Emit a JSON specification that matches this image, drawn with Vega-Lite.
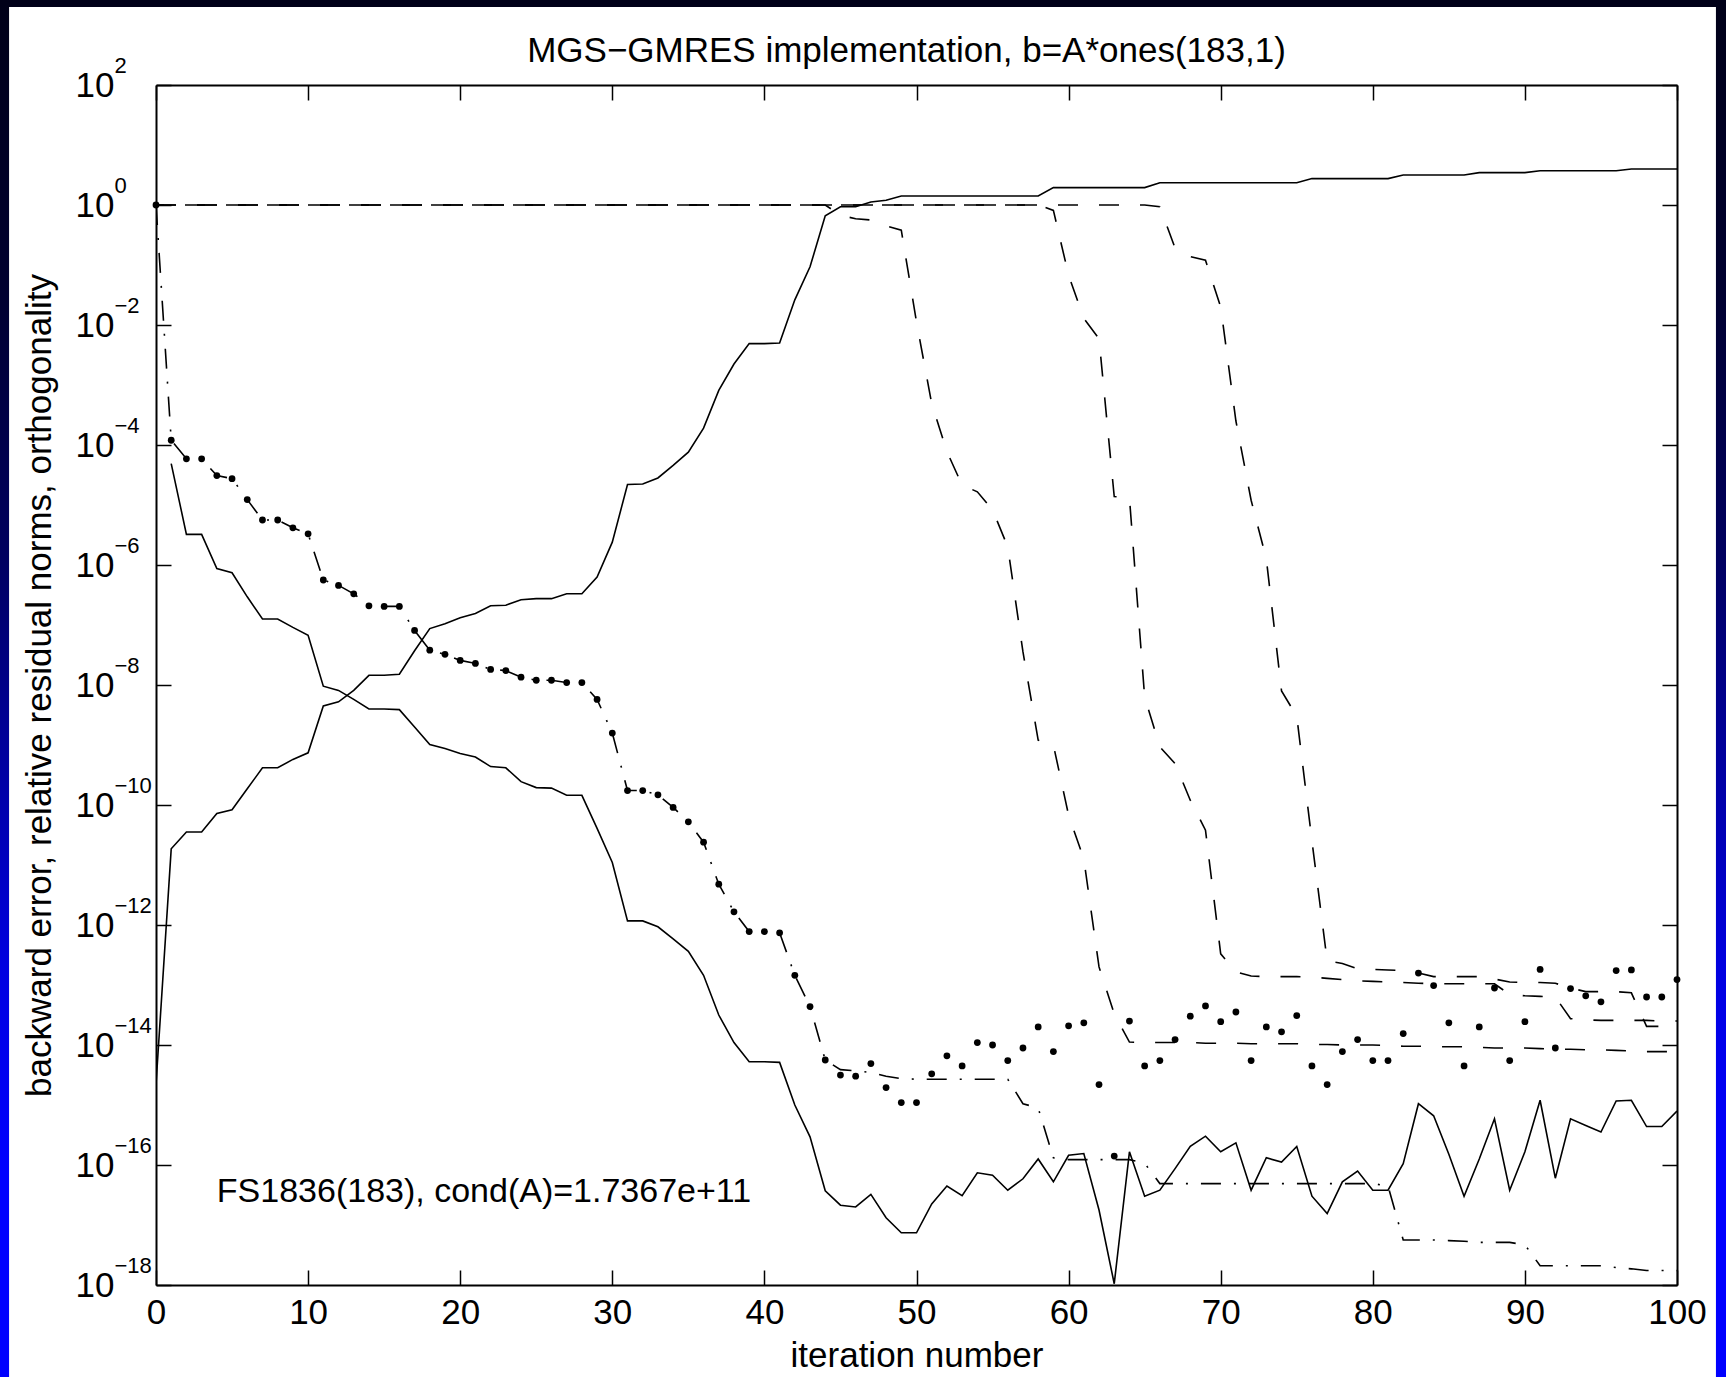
{
  "$schema": "https://vega.github.io/schema/vega-lite/v6.json",
  "autosize": "none",
  "width": 1521,
  "height": 1200,
  "padding": {"left": 156, "top": 85, "right": 49, "bottom": 92},
  "background": "#000018",
  "config": {
    "view": {"stroke": null},
    "font": "Liberation Sans",
    "axis": {"labelFont": "Liberation Sans", "titleFont": "Liberation Sans", "labelColor": "black", "titleColor": "black", "tickColor": "black", "domainColor": "black", "grid": false, "labelFlush": false, "labelOverlap": false, "titleFontWeight": "normal"}
  },
  "title": {"text": "MGS−GMRES implementation, b=A*ones(183,1)", "font": "Liberation Sans", "fontSize": 35, "fontWeight": "normal", "color": "black", "anchor": "middle", "frame": "group", "offset": -97, "dx": -10, "baseline": "alphabetic"},
  "data": {"values": [
    {"i":0,"o":2.19e-15,"e":1,"r":1,"d1":1,"d2":1,"d3":1},
    {"i":1,"o":1.86e-11,"b":4.90e-5,"e":1.20e-4,"r":1.20e-4,"d1":1,"d2":1,"d3":1},
    {"i":2,"o":3.55e-11,"b":3.24e-6,"e":5.89e-5,"r":5.89e-5,"d1":1,"d2":1,"d3":1},
    {"i":3,"o":3.55e-11,"b":3.24e-6,"e":5.89e-5,"r":5.89e-5,"d1":1,"d2":1,"d3":1},
    {"i":4,"o":7.24e-11,"b":8.71e-7,"e":3.09e-5,"r":3.09e-5,"d1":1,"d2":1,"d3":1},
    {"i":5,"o":8.32e-11,"b":7.41e-7,"e":2.75e-5,"r":2.75e-5,"d1":1,"d2":1,"d3":1},
    {"i":6,"o":1.86e-10,"b":2.95e-7,"e":1.23e-5,"r":1.23e-5,"d1":1,"d2":1,"d3":1},
    {"i":7,"o":4.17e-10,"b":1.26e-7,"e":5.62e-6,"r":5.62e-6,"d1":1,"d2":1,"d3":1},
    {"i":8,"o":4.17e-10,"b":1.26e-7,"e":5.62e-6,"r":5.62e-6,"d1":1,"d2":1,"d3":1},
    {"i":9,"o":5.75e-10,"b":9.12e-8,"e":4.17e-6,"r":4.17e-6,"d1":1,"d2":1,"d3":1},
    {"i":10,"o":7.41e-10,"b":6.76e-8,"e":3.31e-6,"r":3.31e-6,"d1":1,"d2":1,"d3":1},
    {"i":11,"o":4.47e-9,"b":9.55e-9,"e":5.62e-7,"r":5.62e-7,"d1":1,"d2":1,"d3":1},
    {"i":12,"o":5.25e-9,"b":8.13e-9,"e":4.57e-7,"r":4.57e-7,"d1":1,"d2":1,"d3":1},
    {"i":13,"o":8.13e-9,"b":5.75e-9,"e":3.31e-7,"r":3.31e-7,"d1":1,"d2":1,"d3":1},
    {"i":14,"o":1.45e-8,"b":3.98e-9,"e":2.09e-7,"r":2.09e-7,"d1":1,"d2":1,"d3":1},
    {"i":15,"o":1.45e-8,"b":3.98e-9,"e":2.04e-7,"r":2.04e-7,"d1":1,"d2":1,"d3":1},
    {"i":16,"o":1.51e-8,"b":3.89e-9,"e":2.04e-7,"r":2.04e-7,"d1":1,"d2":1,"d3":1},
    {"i":17,"o":3.72e-8,"b":2.00e-9,"e":8.13e-8,"r":8.13e-8,"d1":1,"d2":1,"d3":1},
    {"i":18,"o":8.71e-8,"b":1.02e-9,"e":3.80e-8,"r":3.80e-8,"d1":1,"d2":1,"d3":1},
    {"i":19,"o":1.05e-7,"b":8.71e-10,"e":3.24e-8,"r":3.24e-8,"d1":1,"d2":1,"d3":1},
    {"i":20,"o":1.32e-7,"b":7.24e-10,"e":2.57e-8,"r":2.57e-8,"d1":1,"d2":1,"d3":1},
    {"i":21,"o":1.55e-7,"b":6.31e-10,"e":2.29e-8,"r":2.29e-8,"d1":1,"d2":1,"d3":1},
    {"i":22,"o":2.09e-7,"b":4.37e-10,"e":1.82e-8,"r":1.82e-8,"d1":1,"d2":1,"d3":1},
    {"i":23,"o":2.14e-7,"b":4.17e-10,"e":1.74e-8,"r":1.74e-8,"d1":1,"d2":1,"d3":1},
    {"i":24,"o":2.63e-7,"b":2.45e-10,"e":1.35e-8,"r":1.35e-8,"d1":1,"d2":1,"d3":1},
    {"i":25,"o":2.75e-7,"b":1.95e-10,"e":1.20e-8,"r":1.20e-8,"d1":1,"d2":1,"d3":1},
    {"i":26,"o":2.75e-7,"b":1.91e-10,"e":1.20e-8,"r":1.20e-8,"d1":1,"d2":1,"d3":1},
    {"i":27,"o":3.31e-7,"b":1.45e-10,"e":1.10e-8,"r":1.10e-8,"d1":1,"d2":1,"d3":1},
    {"i":28,"o":3.31e-7,"b":1.45e-10,"e":1.10e-8,"r":1.10e-8,"d1":1,"d2":1,"d3":1},
    {"i":29,"o":6.31e-7,"b":4.07e-11,"e":5.75e-9,"r":5.75e-9,"d1":1,"d2":1,"d3":1},
    {"i":30,"o":2.40e-6,"b":1.10e-11,"e":1.58e-9,"r":1.58e-9,"d1":1,"d2":1,"d3":1},
    {"i":31,"o":2.19e-5,"b":1.17e-12,"e":1.74e-10,"r":1.74e-10,"d1":1,"d2":1,"d3":1},
    {"i":32,"o":2.24e-5,"b":1.17e-12,"e":1.74e-10,"r":1.74e-10,"d1":1,"d2":1,"d3":1},
    {"i":33,"o":2.82e-5,"b":9.33e-13,"e":1.48e-10,"r":1.48e-10,"d1":1,"d2":1,"d3":1},
    {"i":34,"o":4.57e-5,"b":5.89e-13,"e":9.12e-11,"r":9.12e-11,"d1":1,"d2":1,"d3":1},
    {"i":35,"o":7.59e-5,"b":3.63e-13,"e":5.25e-11,"r":5.25e-11,"d1":1,"d2":1,"d3":1},
    {"i":36,"o":1.91e-4,"b":1.45e-13,"e":2.40e-11,"r":2.40e-11,"d1":1,"d2":1,"d3":1},
    {"i":37,"o":8.13e-4,"b":3.16e-14,"e":4.79e-12,"r":4.79e-12,"d1":1,"d2":1,"d3":1},
    {"i":38,"o":2.24e-3,"b":1.10e-14,"e":1.66e-12,"r":1.66e-12,"d1":1,"d2":1,"d3":1},
    {"i":39,"o":4.90e-3,"b":5.25e-15,"e":7.76e-13,"r":7.76e-13,"d1":1,"d2":1,"d3":1},
    {"i":40,"o":4.90e-3,"b":5.25e-15,"e":7.76e-13,"r":7.76e-13,"d1":1,"d2":1,"d3":1},
    {"i":41,"o":5.01e-3,"b":5.13e-15,"e":7.41e-13,"r":7.41e-13,"d1":1,"d2":1,"d3":1},
    {"i":42,"o":2.63e-2,"b":1.00e-15,"e":1.45e-13,"r":1.45e-13,"d1":1,"d2":1,"d3":1},
    {"i":43,"o":9.33e-2,"b":2.95e-16,"e":4.37e-14,"r":4.37e-14,"d1":1,"d2":1,"d3":1},
    {"i":44,"o":0.661,"b":3.72e-17,"e":5.62e-15,"r":5.62e-15,"d1":1,"d2":1,"d3":1},
    {"i":45,"o":0.933,"b":2.14e-17,"e":3.89e-15,"r":3.16e-15,"d1":0.676,"d2":1,"d3":1},
    {"i":46,"o":0.933,"b":2.00e-17,"e":3.72e-15,"r":3.02e-15,"d1":0.589,"d2":1,"d3":1},
    {"i":47,"o":1.122,"b":3.24e-17,"e":3.47e-15,"r":4.90e-15,"d1":0.562,"d2":1,"d3":1},
    {"i":48,"o":1.202,"b":1.32e-17,"e":3.02e-15,"r":1.95e-15,"d1":0.447,"d2":1,"d3":1},
    {"i":49,"o":1.413,"b":7.41e-18,"e":2.75e-15,"r":1.10e-15,"d1":0.380,"d2":1,"d3":1},
    {"i":50,"o":1.413,"b":7.41e-18,"e":2.69e-15,"r":1.10e-15,"d1":1.12e-2,"d2":1,"d3":1},
    {"i":51,"o":1.413,"b":2.24e-17,"e":2.69e-15,"r":3.31e-15,"d1":4.90e-4,"d2":1,"d3":1},
    {"i":52,"o":1.413,"b":4.47e-17,"e":2.69e-15,"r":6.61e-15,"d1":7.76e-5,"d2":1,"d3":1},
    {"i":53,"o":1.413,"b":3.09e-17,"e":2.69e-15,"r":4.47e-15,"d1":2.14e-5,"d2":1,"d3":1},
    {"i":54,"o":1.413,"b":7.41e-17,"e":2.69e-15,"r":1.10e-14,"d1":1.66e-5,"d2":1,"d3":1},
    {"i":55,"o":1.413,"b":6.76e-17,"e":2.69e-15,"r":1.00e-14,"d1":8.32e-6,"d2":1,"d3":1},
    {"i":56,"o":1.413,"b":3.80e-17,"e":2.69e-15,"r":5.50e-15,"d1":2.00e-6,"d2":1,"d3":1},
    {"i":57,"o":1.413,"b":5.89e-17,"e":1.05e-15,"r":8.91e-15,"d1":3.55e-8,"d2":1,"d3":1},
    {"i":58,"o":1.413,"b":1.26e-16,"e":8.91e-16,"r":2.00e-14,"d1":1.20e-9,"d2":1,"d3":1},
    {"i":59,"o":1.95,"b":5.25e-17,"e":1.32e-16,"r":7.76e-15,"d1":1.00e-9,"d2":0.813,"d3":1},
    {"i":60,"o":1.95,"b":1.45e-16,"e":1.23e-16,"r":2.09e-14,"d1":6.76e-11,"d2":6.76e-2,"d3":1},
    {"i":61,"o":1.95,"b":1.55e-16,"e":1.23e-16,"r":2.34e-14,"d1":1.26e-11,"d2":1.29e-2,"d3":1},
    {"i":62,"o":1.95,"b":1.78e-17,"e":1.23e-16,"r":2.19e-15,"d1":2.00e-13,"d2":5.89e-3,"d3":1},
    {"i":63,"o":1.95,"b":1.05e-18,"e":1.23e-16,"r":1.41e-16,"d1":3.31e-14,"d2":1.38e-5,"d3":1},
    {"i":64,"o":1.95,"b":1.66e-16,"e":1.23e-16,"r":2.51e-14,"d1":1.12e-14,"d2":1.32e-5,"d3":1},
    {"i":65,"o":1.95,"b":3.02e-17,"e":1.07e-16,"r":4.47e-15,"d1":1.10e-14,"d2":6.31e-9,"d3":1},
    {"i":66,"o":2.344,"b":3.80e-17,"e":4.90e-17,"r":5.50e-15,"d1":1.10e-14,"d2":9.33e-10,"d3":0.933},
    {"i":67,"o":2.344,"b":8.71e-17,"e":4.90e-17,"r":1.23e-14,"d1":1.10e-14,"d2":4.90e-10,"d3":0.191},
    {"i":68,"o":2.344,"b":2.04e-16,"e":4.90e-17,"r":3.02e-14,"d1":1.10e-14,"d2":1.20e-10,"d3":0.138},
    {"i":69,"o":2.344,"b":3.02e-16,"e":4.90e-17,"r":4.47e-14,"d1":1.07e-14,"d2":3.80e-11,"d3":0.120},
    {"i":70,"o":2.344,"b":1.66e-16,"e":4.90e-17,"r":2.45e-14,"d1":1.07e-14,"d2":3.31e-13,"d3":2.00e-2},
    {"i":71,"o":2.344,"b":2.34e-16,"e":4.90e-17,"r":3.55e-14,"d1":1.07e-14,"d2":1.66e-13,"d3":2.51e-4},
    {"i":72,"o":2.344,"b":3.80e-17,"e":4.90e-17,"r":5.50e-15,"d1":1.05e-14,"d2":1.41e-13,"d3":1.20e-5},
    {"i":73,"o":2.344,"b":1.32e-16,"e":4.90e-17,"r":2.00e-14,"d1":1.05e-14,"d2":1.38e-13,"d3":1.26e-6},
    {"i":74,"o":2.344,"b":1.12e-16,"e":4.90e-17,"r":1.66e-14,"d1":1.05e-14,"d2":1.38e-13,"d3":7.94e-9},
    {"i":75,"o":2.344,"b":2.04e-16,"e":4.90e-17,"r":3.09e-14,"d1":1.05e-14,"d2":1.38e-13,"d3":3.02e-9},
    {"i":76,"o":2.754,"b":3.02e-17,"e":4.90e-17,"r":4.47e-15,"d1":1.02e-14,"d2":1.35e-13,"d3":2.51e-11},
    {"i":77,"o":2.754,"b":1.55e-17,"e":4.90e-17,"r":2.19e-15,"d1":1.02e-14,"d2":1.29e-13,"d3":2.51e-13},
    {"i":78,"o":2.754,"b":5.25e-17,"e":4.90e-17,"r":7.76e-15,"d1":1.00e-14,"d2":1.23e-13,"d3":2.29e-13},
    {"i":79,"o":2.754,"b":7.94e-17,"e":4.90e-17,"r":1.23e-14,"d1":1.00e-14,"d2":1.17e-13,"d3":1.86e-13},
    {"i":80,"o":2.754,"b":3.80e-17,"e":4.90e-17,"r":5.50e-15,"d1":1.00e-14,"d2":1.15e-13,"d3":1.82e-13},
    {"i":81,"o":2.754,"b":3.80e-17,"e":4.47e-17,"r":5.50e-15,"d1":9.77e-15,"d2":1.12e-13,"d3":1.78e-13},
    {"i":82,"o":3.162,"b":1.05e-16,"e":5.62e-18,"r":1.55e-14,"d1":9.55e-15,"d2":1.10e-13,"d3":1.74e-13},
    {"i":83,"o":3.162,"b":1.05e-15,"e":5.62e-18,"r":1.58e-13,"d1":9.55e-15,"d2":1.07e-13,"d3":1.58e-13},
    {"i":84,"o":3.162,"b":6.61e-16,"e":5.62e-18,"r":9.77e-14,"d1":9.33e-15,"d2":1.05e-13,"d3":1.38e-13},
    {"i":85,"o":3.162,"b":1.51e-16,"e":5.50e-18,"r":2.34e-14,"d1":9.33e-15,"d2":1.05e-13,"d3":1.38e-13},
    {"i":86,"o":3.162,"b":3.02e-17,"e":5.37e-18,"r":4.47e-15,"d1":9.33e-15,"d2":1.05e-13,"d3":1.38e-13},
    {"i":87,"o":3.467,"b":1.26e-16,"e":5.13e-18,"r":2.00e-14,"d1":9.12e-15,"d2":1.05e-13,"d3":1.38e-13},
    {"i":88,"o":3.467,"b":5.89e-16,"e":5.13e-18,"r":8.91e-14,"d1":8.91e-15,"d2":1.05e-13,"d3":1.26e-13},
    {"i":89,"o":3.467,"b":3.80e-17,"e":5.13e-18,"r":5.50e-15,"d1":8.91e-15,"d2":6.92e-14,"d3":1.12e-13},
    {"i":90,"o":3.467,"b":1.66e-16,"e":4.68e-18,"r":2.45e-14,"d1":8.91e-15,"d2":6.61e-14,"d3":1.10e-13},
    {"i":91,"o":3.715,"b":1.20e-15,"e":2.09e-18,"r":1.82e-13,"d1":8.71e-15,"d2":6.46e-14,"d3":1.10e-13},
    {"i":92,"o":3.715,"b":6.03e-17,"e":2.09e-18,"r":8.91e-15,"d1":8.51e-15,"d2":6.31e-14,"d3":1.07e-13},
    {"i":93,"o":3.715,"b":5.89e-16,"e":2.09e-18,"r":8.71e-14,"d1":8.51e-15,"d2":2.75e-14,"d3":8.91e-14},
    {"i":94,"o":3.715,"b":4.57e-16,"e":2.09e-18,"r":6.61e-14,"d1":8.32e-15,"d2":2.63e-14,"d3":7.76e-14},
    {"i":95,"o":3.715,"b":3.55e-16,"e":2.09e-18,"r":5.25e-14,"d1":8.32e-15,"d2":2.57e-14,"d3":7.76e-14},
    {"i":96,"o":3.715,"b":1.17e-15,"e":1.95e-18,"r":1.74e-13,"d1":8.13e-15,"d2":2.57e-14,"d3":7.76e-14},
    {"i":97,"o":3.981,"b":1.20e-15,"e":1.86e-18,"r":1.78e-13,"d1":7.94e-15,"d2":2.57e-14,"d3":7.41e-14},
    {"i":98,"o":3.981,"b":4.37e-16,"e":1.74e-18,"r":6.31e-14,"d1":7.76e-15,"d2":2.57e-14,"d3":2.04e-14},
    {"i":99,"o":3.981,"b":4.37e-16,"e":1.74e-18,"r":6.31e-14,"d1":7.76e-15,"d2":2.51e-14,"d3":2.04e-14},
    {"i":100,"o":3.981,"b":7.94e-16,"e":1.74e-18,"r":1.23e-13,"d1":7.76e-15,"d2":2.51e-14,"d3":2.04e-14}
  ]},
  "layer": [
    {
      "data": {"values": [{"panel": "frame"}]},
      "mark": {"type": "rect", "color": {"gradient": "linear", "x1": 0, "y1": 0, "x2": 0, "y2": 1, "stops": [
        {"offset": 0, "color": "#000018"},
        {"offset": 0.2, "color": "#000030"},
        {"offset": 0.38, "color": "#000060"},
        {"offset": 0.52, "color": "#0000a0"},
        {"offset": 0.66, "color": "#0000e0"},
        {"offset": 0.8, "color": "#0000ff"},
        {"offset": 1, "color": "#0000ff"}
      ]}},
      "encoding": {
        "x": {"datum": -12, "type": "quantitative", "scale": {"domain": [0, 100], "nice": false, "zero": false},
          "axis": {"orient": "bottom", "zindex": 2, "values": [0,10,20,30,40,50,60,70,80,90,100], "labelFontSize": 35, "labelPadding": 25, "tickSize": -15, "tickWidth": 1.5, "domainWidth": 2, "title": "iteration number", "titleFontSize": 35, "titlePadding": 8}},
        "x2": {"datum": 106},
        "y": {"datum": 2612, "type": "quantitative", "scale": {"type": "log", "domain": [1e-18, 100], "nice": false},
          "axis": {"orient": "left", "zindex": 2, "values": [100, 1, 0.01, 1e-4, 1e-6, 1e-8, 1e-10, 1e-12, 1e-14, 1e-16, 1e-18], "labelExpr": "'10'", "labelFontSize": 35, "labelAlign": "right", "labelBaseline": "middle", "labelPadding": 57, "tickSize": -15, "tickWidth": 1.5, "domainWidth": 2, "title": "backward error, relative residual norms, orthogonality", "titleFontSize": 35, "titlePadding": 18}},
        "y2": {"datum": 1e-21}
      }
    },
    {
      "data": {"values": [{"panel": "paper"}]},
      "mark": {"type": "rect", "color": "white"},
      "encoding": {
        "x": {"datum": -9.66, "type": "quantitative", "scale": {"domain": [0, 100], "nice": false, "zero": false},
          "axis": {"orient": "top", "zindex": 2, "values": [0,10,20,30,40,50,60,70,80,90,100], "labels": false, "tickSize": -15, "tickWidth": 1.5, "domainWidth": 2, "title": null}},
        "x2": {"datum": 102.56},
        "y": {"datum": 1995, "type": "quantitative", "scale": {"type": "log", "domain": [1e-18, 100], "nice": false},
          "axis": {"orient": "right", "zindex": 2, "values": [100, 1, 0.01, 1e-4, 1e-6, 1e-8, 1e-10, 1e-12, 1e-14, 1e-16, 1e-18], "labels": false, "tickSize": -15, "tickWidth": 1.5, "domainWidth": 2, "title": null}},
        "y2": {"datum": 1e-21}
      }
    },
    {
      "mark": {"type": "line", "color": "black", "strokeWidth": 1.6, "strokeDash": [20, 21], "clip": true},
      "encoding": {
        "x": {"field": "i", "type": "quantitative", "scale": {"domain": [0, 100], "nice": false, "zero": false}, "axis": null},
        "y": {"field": "d1", "type": "quantitative", "scale": {"type": "log", "domain": [1e-18, 100], "nice": false},
          "axis": {"orient": "left", "zindex": 2, "values": [100, 1, 0.01, 1e-4, 1e-6, 1e-8, 1e-10, 1e-12, 1e-14, 1e-16, 1e-18], "labelExpr": "(round(log(datum.value)/LN10) < 0 ? '−' : '') + abs(round(log(datum.value)/LN10))", "labelFontSize": 22, "labelAlign": "left", "labelBaseline": "middle", "labelPadding": 42, "labelOffset": -20, "ticks": false, "tickSize": 0, "domain": false, "title": null}}
      }
    },
    {
      "mark": {"type": "line", "color": "black", "strokeWidth": 1.6, "strokeDash": [20, 21], "strokeDashOffset": 12, "clip": true},
      "encoding": {
        "x": {"field": "i", "type": "quantitative", "scale": {"domain": [0, 100], "nice": false, "zero": false}, "axis": null},
        "y": {"field": "d2", "type": "quantitative", "scale": {"type": "log", "domain": [1e-18, 100], "nice": false}, "axis": null}
      }
    },
    {
      "mark": {"type": "line", "color": "black", "strokeWidth": 1.6, "strokeDash": [20, 21], "clip": true},
      "encoding": {
        "x": {"field": "i", "type": "quantitative", "scale": {"domain": [0, 100], "nice": false, "zero": false}, "axis": null},
        "y": {"field": "d3", "type": "quantitative", "scale": {"type": "log", "domain": [1e-18, 100], "nice": false}, "axis": null}
      }
    },
    {
      "mark": {"type": "line", "color": "black", "strokeWidth": 1.6, "strokeDash": [20, 13, 2, 13], "clip": true},
      "encoding": {
        "x": {"field": "i", "type": "quantitative", "scale": {"domain": [0, 100], "nice": false, "zero": false}, "axis": null},
        "y": {"field": "e", "type": "quantitative", "scale": {"type": "log", "domain": [1e-18, 100], "nice": false}, "axis": null}
      }
    },
    {
      "mark": {"type": "line", "color": "black", "strokeWidth": 1.6, "clip": true},
      "encoding": {
        "x": {"field": "i", "type": "quantitative", "scale": {"domain": [0, 100], "nice": false, "zero": false}, "axis": null},
        "y": {"field": "o", "type": "quantitative", "scale": {"type": "log", "domain": [1e-18, 100], "nice": false}, "axis": null}
      }
    },
    {
      "mark": {"type": "line", "color": "black", "strokeWidth": 1.6, "clip": true},
      "encoding": {
        "x": {"field": "i", "type": "quantitative", "scale": {"domain": [0, 100], "nice": false, "zero": false}, "axis": null},
        "y": {"field": "b", "type": "quantitative", "scale": {"type": "log", "domain": [1e-18, 100], "nice": false}, "axis": null}
      }
    },
    {
      "mark": {"type": "circle", "color": "black", "size": 46, "opacity": 1},
      "encoding": {
        "x": {"field": "i", "type": "quantitative", "scale": {"domain": [0, 100], "nice": false, "zero": false}, "axis": null},
        "y": {"field": "r", "type": "quantitative", "scale": {"type": "log", "domain": [1e-18, 100], "nice": false}, "axis": null}
      }
    },
    {
      "data": {"values": [{"label": "FS1836(183), cond(A)=1.7367e+11"}]},
      "mark": {"type": "text", "align": "left", "baseline": "middle", "font": "Liberation Sans", "fontSize": 34, "color": "black"},
      "encoding": {
        "x": {"datum": 4, "type": "quantitative", "scale": {"domain": [0, 100], "nice": false, "zero": false}, "axis": null},
        "y": {"datum": 3.55e-17, "type": "quantitative", "scale": {"type": "log", "domain": [1e-18, 100], "nice": false}, "axis": null},
        "text": {"field": "label"}
      }
    }
  ],
  "resolve": {"axis": {"x": "independent", "y": "independent"}}
}
